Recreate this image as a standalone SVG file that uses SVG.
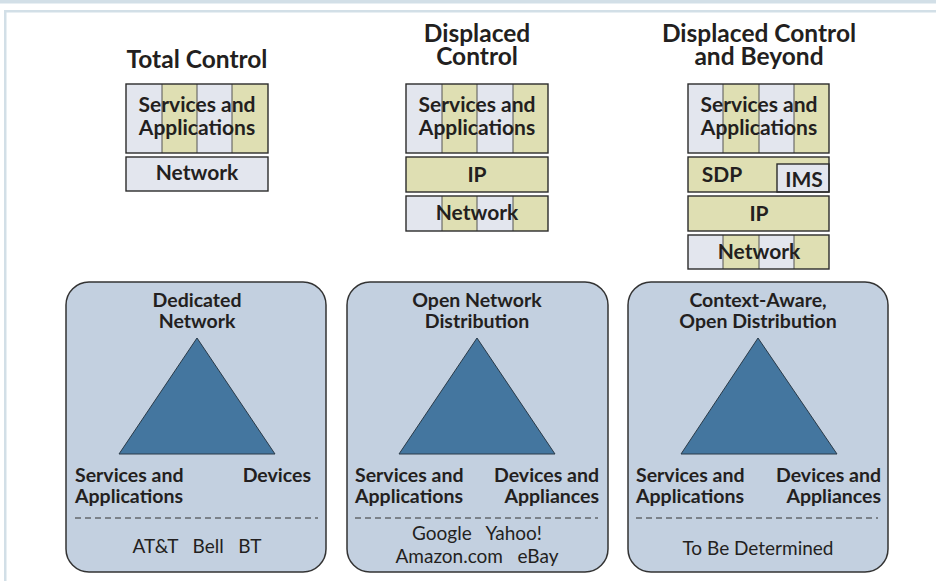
<svg xmlns="http://www.w3.org/2000/svg" width="936" height="581" viewBox="0 0 936 581">
<style>
.t{font-family:Lato,"Open Sans","Liberation Sans",sans-serif;font-weight:bold;fill:#231f20;text-anchor:middle}
.h{font-size:24.5px}
.b{font-size:21px}
.l{font-size:19.5px}
.n{font-family:Lato,"Open Sans","Liberation Sans",sans-serif;font-weight:normal;fill:#231f20;text-anchor:middle;font-size:19px}
.lt{fill:#e3e6ee}
.kh{fill:#dfdfb3}
.bx{fill:none;stroke:#2b2b2b;stroke-width:1.4}
.dv{stroke:#555;stroke-width:1}
.pn{fill:#c3d0e0;stroke:#333;stroke-width:1.5}
.tri{fill:#44769f;stroke:#2a3a48;stroke-width:1}
.ds{stroke:#333;stroke-width:1;stroke-dasharray:6,4}
</style>
<rect x="0" y="0" width="936" height="581" fill="#fff"/>
<g id="frame">
<rect x="0" y="0" width="936" height="3.5" fill="#d2dfe7"/>
<rect x="4" y="10" width="932" height="2.5" fill="#d2dfe7"/>
<rect x="4" y="10" width="2.5" height="571" fill="#d2dfe7"/>
</g>

<g id="stack-total-control">
<text class="t h" x="197" y="68">Total Control</text>
<rect class="lt" x="126" y="84" width="36" height="69"/>
<rect class="kh" x="162" y="84" width="35" height="69"/>
<rect class="lt" x="197" y="84" width="35" height="69"/>
<rect class="kh" x="232" y="84" width="36" height="69"/>
<line class="dv" x1="162" y1="84" x2="162" y2="153"/>
<line class="dv" x1="197" y1="84" x2="197" y2="153"/>
<line class="dv" x1="232" y1="84" x2="232" y2="153"/>
<rect class="bx" x="126" y="84" width="142" height="69"/>
<text class="t b" x="197" y="112">Services and</text>
<text class="t b" x="197" y="135">Applications</text>
<rect class="lt" x="126" y="157" width="142" height="34"/>
<rect class="bx" x="126" y="157" width="142" height="34"/>
<text class="t b" x="197" y="180">Network</text>
</g>

<g id="stack-displaced-control">
<text class="t h" x="477" y="42">Displaced</text>
<text class="t h" x="477" y="65">Control</text>
<rect class="lt" x="406" y="84" width="36" height="69"/>
<rect class="kh" x="442" y="84" width="35" height="69"/>
<rect class="lt" x="477" y="84" width="36" height="69"/>
<rect class="kh" x="513" y="84" width="35" height="69"/>
<line class="dv" x1="442" y1="84" x2="442" y2="153"/>
<line class="dv" x1="477" y1="84" x2="477" y2="153"/>
<line class="dv" x1="513" y1="84" x2="513" y2="153"/>
<rect class="bx" x="406" y="84" width="142" height="69"/>
<text class="t b" x="477" y="112">Services and</text>
<text class="t b" x="477" y="135">Applications</text>
<rect class="kh" x="406" y="157" width="142" height="35"/>
<rect class="bx" x="406" y="157" width="142" height="35"/>
<text class="t b" x="477" y="182">IP</text>
<rect class="lt" x="406" y="196" width="36" height="35"/>
<rect class="kh" x="442" y="196" width="35" height="35"/>
<rect class="lt" x="477" y="196" width="36" height="35"/>
<rect class="kh" x="513" y="196" width="35" height="35"/>
<line class="dv" x1="442" y1="196" x2="442" y2="231"/>
<line class="dv" x1="477" y1="196" x2="477" y2="231"/>
<line class="dv" x1="513" y1="196" x2="513" y2="231"/>
<rect class="bx" x="406" y="196" width="142" height="35"/>
<text class="t b" x="477" y="220">Network</text>
</g>

<g id="stack-displaced-beyond">
<text class="t h" x="759" y="42">Displaced Control</text>
<text class="t h" x="759" y="65">and Beyond</text>
<rect class="lt" x="688" y="84" width="35" height="69"/>
<rect class="kh" x="723" y="84" width="36" height="69"/>
<rect class="lt" x="759" y="84" width="35" height="69"/>
<rect class="kh" x="794" y="84" width="35" height="69"/>
<line class="dv" x1="723" y1="84" x2="723" y2="153"/>
<line class="dv" x1="759" y1="84" x2="759" y2="153"/>
<line class="dv" x1="794" y1="84" x2="794" y2="153"/>
<rect class="bx" x="688" y="84" width="141" height="69"/>
<text class="t b" x="759" y="112">Services and</text>
<text class="t b" x="759" y="135">Applications</text>
<rect class="kh" x="688" y="157" width="141" height="35"/>
<rect class="lt" x="777" y="164" width="52" height="28"/>
<rect class="bx" x="777" y="164" width="52" height="28"/>
<rect class="bx" x="688" y="157" width="141" height="35"/>
<text class="t b" x="722" y="182">SDP</text>
<text class="t b" x="804" y="187">IMS</text>
<rect class="kh" x="688" y="196" width="141" height="35"/>
<rect class="bx" x="688" y="196" width="141" height="35"/>
<text class="t b" x="759" y="221">IP</text>
<rect class="lt" x="688" y="235" width="35" height="34"/>
<rect class="kh" x="723" y="235" width="36" height="34"/>
<rect class="lt" x="759" y="235" width="35" height="34"/>
<rect class="kh" x="794" y="235" width="35" height="34"/>
<line class="dv" x1="723" y1="235" x2="723" y2="269"/>
<line class="dv" x1="759" y1="235" x2="759" y2="269"/>
<line class="dv" x1="794" y1="235" x2="794" y2="269"/>
<rect class="bx" x="688" y="235" width="141" height="34"/>
<text class="t b" x="759" y="259">Network</text>
</g>

<g id="panel-dedicated">
<rect class="pn" x="66" y="282" width="260" height="290" rx="23"/>
<text class="t l" x="197" y="307">Dedicated</text>
<text class="t l" x="197" y="328">Network</text>
<polygon class="tri" points="197,338 275,454 119,454"/>
<text class="t l" x="75" y="482" style="text-anchor:start">Services and</text>
<text class="t l" x="75" y="503" style="text-anchor:start">Applications</text>
<text class="t l" x="311" y="482" style="text-anchor:end">Devices</text>
<line class="ds" x1="75" y1="518" x2="318" y2="518"/>
<text class="n" x="197" y="553" xml:space="preserve">AT&amp;T   Bell   BT</text>
</g>

<g id="panel-open">
<rect class="pn" x="347" y="282" width="261" height="290" rx="23"/>
<text class="t l" x="477" y="307">Open Network</text>
<text class="t l" x="477" y="328">Distribution</text>
<polygon class="tri" points="477,338 555,454 399,454"/>
<text class="t l" x="355" y="482" style="text-anchor:start">Services and</text>
<text class="t l" x="355" y="503" style="text-anchor:start">Applications</text>
<text class="t l" x="599" y="482" style="text-anchor:end">Devices and</text>
<text class="t l" x="599" y="503" style="text-anchor:end">Appliances</text>
<line class="ds" x1="355" y1="518" x2="598" y2="518"/>
<text class="n" x="477" y="540" xml:space="preserve">Google   Yahoo!</text>
<text class="n" x="477" y="563" xml:space="preserve">Amazon.com   eBay</text>
</g>

<g id="panel-context">
<rect class="pn" x="628" y="282" width="260" height="290" rx="23"/>
<text class="t l" x="758" y="307">Context-Aware,</text>
<text class="t l" x="758" y="328">Open Distribution</text>
<polygon class="tri" points="758,338 837,454 681,454"/>
<text class="t l" x="636" y="482" style="text-anchor:start">Services and</text>
<text class="t l" x="636" y="503" style="text-anchor:start">Applications</text>
<text class="t l" x="881" y="482" style="text-anchor:end">Devices and</text>
<text class="t l" x="881" y="503" style="text-anchor:end">Appliances</text>
<line class="ds" x1="636" y1="518" x2="878" y2="518"/>
<text class="n" x="758" y="555">To Be Determined</text>
</g>

<g id="connectors"></g>
</svg>
